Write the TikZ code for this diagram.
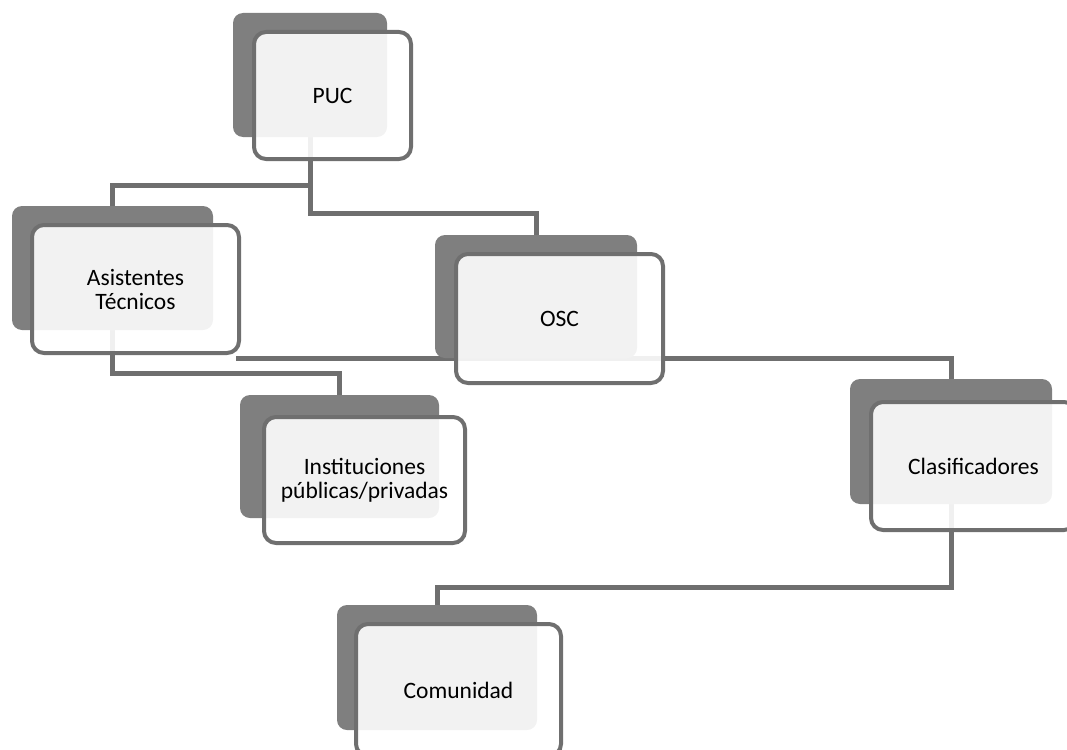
\documentclass[tikz,border=0pt]{standalone}
\usepackage{fontspec}
\setmainfont{Carlito}
\definecolor{backgray}{HTML}{7F7F7F}
\definecolor{linegray}{HTML}{6F6F6F}
\pgfdeclarelayer{bg}
\pgfsetlayers{bg,main}
\begin{document}
\begin{tikzpicture}[x=1pt,y=-1pt,
  backbox/.style={rectangle, rounded corners=10pt, fill=backgray, draw=none, inner sep=0pt},
  frontbox/.style={rectangle, rounded corners=12pt, fill=white, fill opacity=0.9, text opacity=1,
    draw=linegray, line width=4pt, inner sep=0pt, align=center, text=black,
    font=\fontsize{23.5}{24}\selectfont},
  conn/.style={draw=linegray, line width=5pt}]
\useasboundingbox (0,0) rectangle (1067,749);
\clip (0,0) rectangle (1067,749);

% back shapes
\node[backbox, minimum width=154pt, minimum height=124pt] (pucb)  at (310,75) {};
\node[backbox, minimum width=201pt, minimum height=124pt] (asb)   at (112.5,268) {};
\node[backbox, minimum width=202pt, minimum height=123pt] (oscb)  at (536,296.5) {};
\node[backbox, minimum width=199pt, minimum height=123pt] (instb) at (339.5,456.5) {};
\node[backbox, minimum width=202pt, minimum height=125pt] (clasb) at (951,441.5) {};
\node[backbox, minimum width=200pt, minimum height=125pt] (comb)  at (437,667.5) {};

% connectors (behind the shapes)
\coordinate (c4) at (236,358);
\begin{pgfonlayer}{bg}
\path[conn] (pucb.south) -- ++(0,48) -| (asb.north);
\path[conn] (pucb.south) -- ++(0,76) -| (oscb.north);
\path[conn] (asb.south) -- ++(0,43) -| (instb.north);
\path[conn] (c4) -| (clasb.north);
\path[conn] (clasb.south) -- ++(0,83) -| (comb.north);
\end{pgfonlayer}

% front shapes
\node[frontbox, minimum width=157pt, minimum height=127pt] (puc)  at (332.5,95.5) {PUC};
\node[frontbox, minimum width=207pt, minimum height=128pt] (as)   at (135.5,289) {Asistentes\\Técnicos};
\node[frontbox, minimum width=207pt, minimum height=129pt] (osc)  at (559.5,318.5) {OSC};
\node[frontbox, minimum width=201pt, minimum height=126pt] (inst) at (364.5,480) {Instituciones\\públicas/privadas};
\node[frontbox, minimum width=205pt, minimum height=128pt] (clas) at (973.5,466) {Clasificadores};
\node[frontbox, minimum width=205pt, minimum height=132pt] (com)  at (458.5,690) {Comunidad};
\end{tikzpicture}
\end{document}
